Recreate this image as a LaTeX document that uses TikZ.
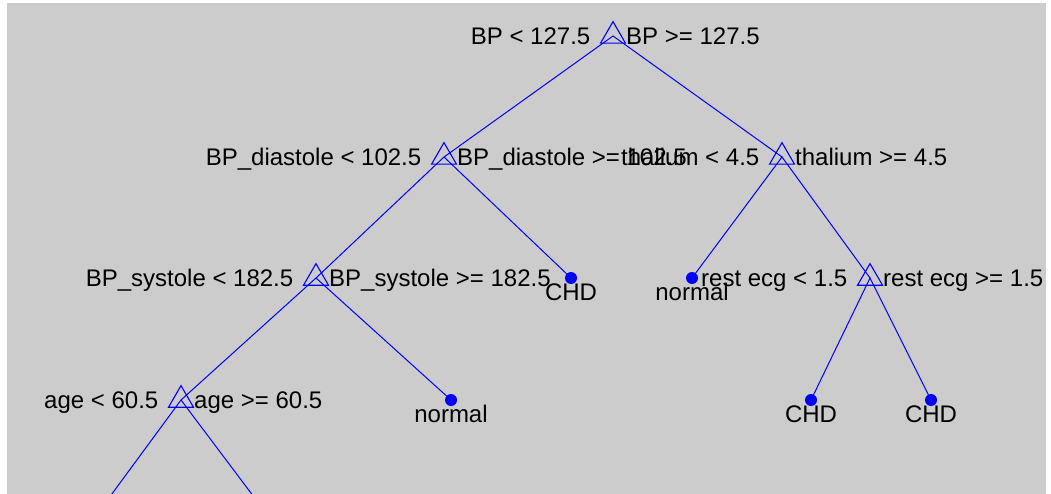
\documentclass[tikz,border=0pt]{standalone}
\usepackage{fontspec}
\setmainfont{Liberation Sans}
\usetikzlibrary{shapes.geometric}
\definecolor{panel}{RGB}{204,204,204}
\definecolor{treeblue}{RGB}{0,0,255}
\tikzset{
  branch/.style={draw=treeblue, line width=1pt},
  splitmark/.style={regular polygon, regular polygon sides=3, draw=treeblue,
    line width=1.1pt, minimum size=28.8pt, inner sep=0pt},
  leafdot/.style={circle, fill=treeblue, minimum size=12pt, inner sep=0pt},
  treetext/.style={inner sep=0pt, text=black, font=\fontsize{24}{28}\selectfont},
  lesslabel/.style={treetext, anchor=base east},
  morelabel/.style={treetext, anchor=base west},
  leaflabel/.style={treetext, anchor=base},
}
\begin{document}
\begin{tikzpicture}[x=1pt, y=-1pt]
  % canvas and grey plot panel
  \fill[white] (0,0) rectangle (1051,494);
  \fill[panel] (7,3) rectangle (1046,494);
  \begin{scope}
    \clip (7,3) rectangle (1046,494);
    % tree points
    \coordinate (r) at (613,36);
    \coordinate (a) at (444,157);
    \coordinate (b) at (782,157);
    \coordinate (c) at (316,278);
    \coordinate (d) at (571,278);
    \coordinate (e) at (692,278);
    \coordinate (f) at (870,278);
    \coordinate (g) at (181,400);
    \coordinate (h) at (451,400);
    \coordinate (i) at (811,400);
    \coordinate (j) at (931,400);
    \coordinate (g1) at (92,521);
    \coordinate (g2) at (272,521);
    % branches
    \draw[branch] (a) -- (r) -- (b);
    \draw[branch] (c) -- (a) -- (d);
    \draw[branch] (e) -- (b) -- (f);
    \draw[branch] (g) -- (c) -- (h);
    \draw[branch] (i) -- (f) -- (j);
    \draw[branch] (g1) -- (g) -- (g2);
    % split markers
    \foreach \n in {r,a,b,c,f,g} \node[splitmark] (m\n) at (\n) {};
    % leaf markers
    \foreach \n in {d,e,h,i,j} \node[leafdot] (l\n) at (\n) {};
    % split rules
    \node[lesslabel] (rl) at ([shift={(-22.5,8.5)}]r) {BP < 127.5};
    \node[morelabel] (rr) at ([shift={(13,8.5)}]r) {BP >= 127.5};
    \node[lesslabel] (al) at ([shift={(-22.5,8.5)}]a) {BP\_diastole < 102.5};
    \node[morelabel] (ar) at ([shift={(13,8.5)}]a) {BP\_diastole >= 102.5};
    \node[lesslabel] (bl) at ([shift={(-22.5,8.5)}]b) {thalium < 4.5};
    \node[morelabel] (br) at ([shift={(13,8.5)}]b) {thalium >= 4.5};
    \node[lesslabel] (cl) at ([shift={(-22.5,8.5)}]c) {BP\_systole < 182.5};
    \node[morelabel] (cr) at ([shift={(13,8.5)}]c) {BP\_systole >= 182.5};
    \node[lesslabel] (fl) at ([shift={(-22.5,8.5)}]f) {rest ecg < 1.5};
    \node[morelabel] (fr) at ([shift={(13,8.5)}]f) {rest ecg >= 1.5};
    \node[lesslabel] (gl) at ([shift={(-22.5,8.5)}]g) {age < 60.5};
    \node[morelabel] (gr) at ([shift={(13,8.5)}]g) {age >= 60.5};
    % leaf classes
    \node[leaflabel] (dt) at ([yshift=-22.5pt]d) {CHD};
    \node[leaflabel] (et) at ([yshift=-22.5pt]e) {normal};
    \node[leaflabel] (ht) at ([yshift=-22.5pt]h) {normal};
    \node[leaflabel] (it) at ([yshift=-22.5pt]i) {CHD};
    \node[leaflabel] (jt) at ([yshift=-22.5pt]j) {CHD};
  \end{scope}
\end{tikzpicture}
\end{document}
